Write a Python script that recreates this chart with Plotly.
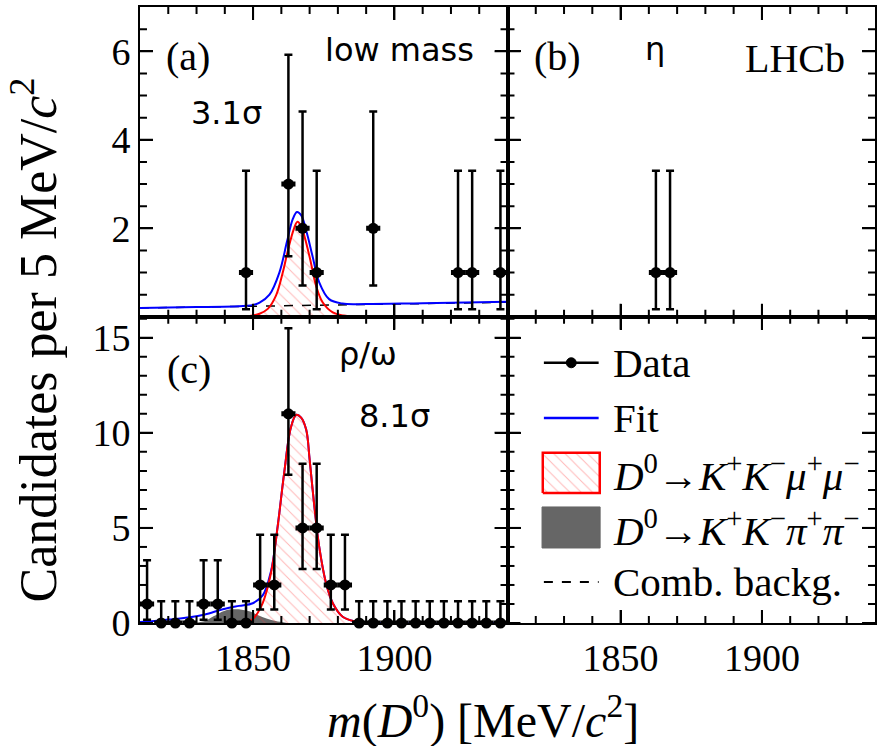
import plotly.graph_objects as go

# ---------------- data ----------------
# panel (a): low mass
x_a = [1847.5, 1862.5, 1867.5, 1872.5, 1892.5, 1922.5, 1927.5, 1937.5]
n_a = [1, 3, 2, 1, 2, 1, 1, 1]
lo_a = [0.17, 1.37, 0.71, 0.17, 0.71, 0.17, 0.17, 0.17]
hi_a = [3.30, 5.92, 4.64, 3.30, 4.64, 3.30, 3.30, 3.30]

# panel (b): eta
x_b = [1862.5, 1867.5]
n_b = [1, 1]
lo_b = [0.17, 0.17]
hi_b = [3.30, 3.30]

# panel (c): rho/omega
x_c = [1812.5, 1817.5, 1822.5, 1827.5, 1832.5, 1837.5, 1842.5, 1847.5, 1852.5,
       1857.5, 1862.5, 1867.5, 1872.5, 1877.5, 1882.5, 1887.5, 1892.5, 1897.5,
       1902.5, 1907.5, 1912.5, 1917.5, 1922.5, 1927.5, 1932.5, 1937.5]
n_c = [1, 0, 0, 0, 1, 1, 0, 0, 2, 2, 11, 5, 5, 2, 2, 0, 0, 0, 0, 0, 0, 0, 0, 0, 0, 0]
lo_c = [0.17, 0, 0, 0, 0.17, 0.17, 0, 0, 0.71, 0.71, 7.79, 2.84, 2.84, 0.71, 0.71,
        0, 0, 0, 0, 0, 0, 0, 0, 0, 0, 0]
hi_c = [3.30, 1.15, 1.15, 1.15, 3.30, 3.30, 1.15, 1.15, 4.64, 4.64, 15.5, 8.38, 8.38,
        4.64, 4.64, 1.15, 1.15, 1.15, 1.15, 1.15, 1.15, 1.15, 1.15, 1.15, 1.15, 1.15]

# fit curves, panel (a)
sig_a_x = [1846, 1850, 1852.3, 1855.2, 1858.1, 1860.5, 1862.5, 1864.5, 1865.7, 1867,
           1869.9, 1872.3, 1874.6, 1878.2, 1882, 1886]
sig_a_y = [0, 0.03, 0.07, 0.18, 0.48, 1.0, 1.55, 2.0, 2.15, 2.05, 1.38, 0.7, 0.33,
           0.1, 0.03, 0]
fit_a_x = [1810, 1830, 1845, 1847.6, 1850, 1852.3, 1855.8, 1859.3, 1862, 1864, 1865.5,
           1867, 1869, 1871, 1873.4, 1876.9, 1881.6, 1890, 1910, 1940]
fit_a_y = [0.2, 0.22, 0.24, 0.25, 0.27, 0.32, 0.5, 1.0, 1.7, 2.2, 2.37, 2.3, 1.9, 1.38,
           0.78, 0.4, 0.3, 0.29, 0.31, 0.34]
comb_a_x = [1810, 1940]
comb_a_y = [0.2, 0.33]

# fit curves, panel (c)
sig_c_x = [1847, 1849.5, 1851.5, 1853.4, 1856.3, 1858.7, 1861.0, 1863.4, 1865.3, 1867,
           1868.8, 1870, 1871.7, 1873.4, 1875.8, 1878.2, 1881.7, 1886.4, 1890]
sig_c_y = [0, 0.15, 0.5, 1.04, 2.6, 5.07, 7.88, 10.3, 10.95, 10.8, 10.16, 8.6, 6.1,
           4.0, 2.1, 1.04, 0.33, 0.07, 0]
fit_c_x = [1810, 1815, 1820, 1827.6, 1833, 1839.3, 1845, 1849.9, 1853.4, 1856.3, 1858.7,
           1861.0, 1863.4, 1865.3, 1867, 1868.8, 1870, 1871.7, 1873.4, 1875.8, 1878.2,
           1881.7, 1886.4, 1890, 1940]
fit_c_y = [0.05, 0.1, 0.18, 0.3, 0.45, 0.72, 0.9, 1.04, 1.45, 2.7, 5.1, 7.9, 10.3,
           10.95, 10.8, 10.16, 8.6, 6.1, 4.0, 2.1, 1.04, 0.33, 0.07, 0.01, 0]
pk_c_x = [1829, 1833, 1836, 1840, 1843, 1846, 1849, 1852, 1855, 1858, 1862]
pk_c_y = [0, 0.1, 0.35, 0.65, 0.72, 0.7, 0.6, 0.4, 0.22, 0.1, 0]

# axis ranges and tick positions
X_RANGE = [1810, 1940]
Y_TOP = [0, 7]
Y_BOT = [0, 16.1]
X_MAJOR = [1850, 1900]
X_MINOR = [1820, 1830, 1840, 1860, 1870, 1880, 1890, 1910, 1920, 1930]
YT_MAJOR = [2, 4, 6]
YT_MINOR = [0.5, 1, 1.5, 2.5, 3, 3.5, 4.5, 5, 5.5, 6.5]
YB_MAJOR = [0, 5, 10, 15]
YB_MINOR = [1, 2, 3, 4, 6, 7, 8, 9, 11, 12, 13, 14, 16]

SERIF = "Liberation Serif"
SANS = "DejaVu Sans"
HATCH = dict(shape="\\", fgcolor="rgba(255,60,60,0.75)", bgcolor="rgba(255,255,255,0)",
             size=8, solidity=0.12)

# layout geometry (pixels)
W, H = 881, 746
ML, MR, MT, MB = 140, 4, 7, 123
SPLIT = 0.497
PW = (W - ML - MR) / 2.0
PH_TOP = (H - MT - MB) * (1 - SPLIT)
PH_BOT = (H - MT - MB) * SPLIT

fig = go.Figure()


def data_trace(x, n, lo, hi, xa, ya):
    return go.Scatter(
        x=x, y=n, xaxis=xa, yaxis=ya, mode="markers", cliponaxis=False,
        marker=dict(color="black", size=11, symbol="circle"),
        error_y=dict(type="data", symmetric=False,
                     array=[h - v for h, v in zip(hi, n)],
                     arrayminus=[v - l for v, l in zip(n, lo)],
                     color="black", thickness=2.5, width=4),
        error_x=dict(type="constant", value=2.5, color="black", thickness=5, width=0),
        showlegend=False, hoverinfo="skip")


def fill_trace(x, y, xa, ya, **kw):
    return go.Scatter(x=x, y=y, xaxis=xa, yaxis=ya, mode="lines", fill="tozeroy",
                      line=dict(color="rgba(0,0,0,0)", width=0, shape="spline"),
                      showlegend=False, hoverinfo="skip", **kw)


def line_trace(x, y, xa, ya, color, dash="solid", width=2):
    return go.Scatter(x=x, y=y, xaxis=xa, yaxis=ya, mode="lines",
                      line=dict(color=color, width=width, dash=dash, shape="spline"),
                      showlegend=False, hoverinfo="skip")


# ---- panel (a)
fig.add_trace(fill_trace(sig_a_x, sig_a_y, "x", "y", fillcolor="rgba(0,0,0,0)",
                         fillpattern=HATCH))
fig.add_trace(line_trace(comb_a_x, comb_a_y, "x", "y", "black", dash="dash", width=1.5))
fig.add_trace(line_trace(fit_a_x, fit_a_y, "x", "y", "#0000ff"))
fig.add_trace(line_trace(sig_a_x, sig_a_y, "x", "y", "#ff0000"))
fig.add_trace(data_trace(x_a, n_a, lo_a, hi_a, "x", "y"))

# ---- panel (b)
fig.add_trace(data_trace(x_b, n_b, lo_b, hi_b, "x2", "y2"))

# ---- panel (c)
fig.add_trace(fill_trace(pk_c_x, pk_c_y, "x3", "y3", fillcolor="#666666"))
fig.add_trace(fill_trace(sig_c_x, sig_c_y, "x3", "y3", fillcolor="rgba(0,0,0,0)",
                         fillpattern=HATCH))
fig.add_trace(line_trace(fit_c_x, fit_c_y, "x3", "y3", "#0000ff"))
fig.add_trace(line_trace(sig_c_x, sig_c_y, "x3", "y3", "#ff0000"))
fig.add_trace(data_trace(x_c, n_c, lo_c, hi_c, "x3", "y3"))


# ---- panel (d): legend drawn by hand
def dx(f):
    return X_RANGE[0] + f * (X_RANGE[1] - X_RANGE[0])


def dy(f):
    return Y_BOT[0] + f * (Y_BOT[1] - Y_BOT[0])


LX0, LX1 = 0.099, 0.248
fig.add_trace(go.Scatter(x=[dx(0.096), dx(0.251), dx(0.251), dx(0.096), dx(0.096)],
                         y=[dy(0.425), dy(0.425), dy(0.556), dy(0.556), dy(0.425)],
                         xaxis="x4", yaxis="y4", mode="lines", fill="toself",
                         fillcolor="rgba(0,0,0,0)", fillpattern=HATCH,
                         line=dict(color="#ff0000", width=2.5), showlegend=False,
                         hoverinfo="skip"))

shapes = []
shapes.append(dict(type="line", xref="x4 domain", yref="y4 domain", x0=LX0, x1=LX1,
                   y0=0.850, y1=0.850, line=dict(color="black", width=2.5)))
shapes.append(dict(type="circle", xref="x4 domain", yref="y4 domain",
                   x0=(LX0 + LX1) / 2 - 0.0135, x1=(LX0 + LX1) / 2 + 0.0135,
                   y0=0.850 - 0.0163, y1=0.850 + 0.0163,
                   fillcolor="black", line=dict(color="black", width=1)))
shapes.append(dict(type="line", xref="x4 domain", yref="y4 domain", x0=LX0, x1=LX1,
                   y0=0.670, y1=0.670, line=dict(color="#0000ff", width=2.5)))
shapes.append(dict(type="rect", xref="x4 domain", yref="y4 domain", x0=0.094, x1=0.252,
                   y0=0.245, y1=0.379, fillcolor="#666666", line=dict(color="#666666", width=1)))
shapes.append(dict(type="line", xref="x4 domain", yref="y4 domain", x0=LX0, x1=LX1,
                   y0=0.134, y1=0.134, line=dict(color="black", width=2, dash="dash")))

# ---- tick marks (inside, on all four sides of every panel), in data units
TICK = dict(color="black", width=2)
MAJ_LEN, MIN_LEN = 13, 7
panels = [("x", "y", Y_TOP, PH_TOP, YT_MAJOR, YT_MINOR),
          ("x2", "y2", Y_TOP, PH_TOP, YT_MAJOR, YT_MINOR),
          ("x3", "y3", Y_BOT, PH_BOT, YB_MAJOR, YB_MINOR),
          ("x4", "y4", Y_BOT, PH_BOT, YB_MAJOR, YB_MINOR)]
x_per_px = (X_RANGE[1] - X_RANGE[0]) / PW
for xa, ya, yr, ph, ymaj, ymin in panels:
    y_per_px = (yr[1] - yr[0]) / ph
    for vals, L in ((X_MAJOR, MAJ_LEN), (X_MINOR, MIN_LEN)):
        for v in vals:
            shapes.append(dict(type="line", xref=xa, yref=ya, x0=v, x1=v,
                               y0=yr[0], y1=yr[0] + L * y_per_px, line=TICK))
            shapes.append(dict(type="line", xref=xa, yref=ya, x0=v, x1=v,
                               y0=yr[1], y1=yr[1] - L * y_per_px, line=TICK))
    for vals, L in ((ymaj, MAJ_LEN), (ymin, MIN_LEN)):
        for v in vals:
            shapes.append(dict(type="line", xref=xa, yref=ya, y0=v, y1=v,
                               x0=X_RANGE[0], x1=X_RANGE[0] + L * x_per_px, line=TICK))
            shapes.append(dict(type="line", xref=xa, yref=ya, y0=v, y1=v,
                               x0=X_RANGE[1], x1=X_RANGE[1] - L * x_per_px, line=TICK))

legend_items = [
    ("Data", 0.850),
    ("Fit", 0.670),
    ("<i>D</i><sup>0</sup>→<i>K</i><sup>+</sup><i>K</i><sup>−</sup><i>μ</i><sup>+</sup><i>μ</i><sup>−</sup>", 0.490),
    ("<i>D</i><sup>0</sup>→<i>K</i><sup>+</sup><i>K</i><sup>−</sup><i>π</i><sup>+</sup><i>π</i><sup>−</sup>", 0.310),
    ("Comb. backg.", 0.134),
]

annotations = []
for txt, yy in legend_items:
    annotations.append(dict(text=txt, xref="x4 domain", yref="y4 domain", x=0.281, y=yy,
                            xanchor="left", yanchor="middle", showarrow=False,
                            font=dict(family=SERIF, size=41, color="black")))


def panel_text(txt, xr, yr, x, y, family, size):
    annotations.append(dict(text=txt, xref=xr, yref=yr, x=x, y=y, xanchor="center",
                            yanchor="middle", showarrow=False,
                            font=dict(family=family, size=size, color="black")))


panel_text("(a)", "x domain", "y domain", 0.130, 0.839, SERIF, 40)
panel_text("low mass", "x domain", "y domain", 0.706, 0.861, SANS, 32)
panel_text("3.1σ", "x domain", "y domain", 0.235, 0.658, SANS, 32)
panel_text("(b)", "x2 domain", "y2 domain", 0.137, 0.839, SERIF, 40)
panel_text("η", "x2 domain", "y2 domain", 0.400, 0.865, SANS, 32)
panel_text("LHCb", "x2 domain", "y2 domain", 0.782, 0.835, SERIF, 40)
panel_text("(c)", "x3 domain", "y3 domain", 0.134, 0.827, SERIF, 40)
panel_text("ρ/ω", "x3 domain", "y3 domain", 0.620, 0.879, SANS, 32)
panel_text("8.1σ", "x3 domain", "y3 domain", 0.693, 0.676, SANS, 32)

# axis titles
annotations.append(dict(text="Candidates per 5 MeV/<i>c</i><sup>2</sup>", xref="paper",
                        yref="paper", x=-0.143, y=0.46, textangle=-90, xanchor="center",
                        yanchor="middle", showarrow=False,
                        font=dict(family=SERIF, size=52, color="black")))
annotations.append(dict(text="<i>m</i>(<i>D</i><sup>0</sup>) [MeV/<i>c</i><sup>2</sup>]",
                        xref="paper", yref="paper", x=0.4668, y=-0.154, xanchor="center",
                        yanchor="middle", showarrow=False,
                        font=dict(family=SERIF, size=48, color="black")))

TICKFONT = dict(family=SERIF, size=38, color="black")
base = dict(showline=True, linecolor="black", linewidth=2, mirror="ticks",
            ticks="inside", ticklen=MAJ_LEN, tickwidth=2, tickcolor="black",
            showgrid=False, zeroline=False, tickfont=TICKFONT)
xax = dict(base, range=X_RANGE, tickmode="array", tickvals=X_MAJOR,
           ticktext=[str(v) for v in X_MAJOR])
ytop = dict(base, range=Y_TOP, tickmode="array", tickvals=YT_MAJOR,
            ticktext=[str(v) for v in YT_MAJOR])
ybot = dict(base, range=Y_BOT, tickmode="array", tickvals=YB_MAJOR,
            ticktext=[str(v) for v in YB_MAJOR])

fig.update_layout(
    width=W, height=H,
    margin=dict(l=ML, r=MR, t=MT, b=MB),
    paper_bgcolor="white", plot_bgcolor="rgba(0,0,0,0)",
    showlegend=False,
    xaxis=dict(xax, domain=[0, 0.5], anchor="y", showticklabels=False),
    xaxis2=dict(xax, domain=[0.5, 1], anchor="y2", showticklabels=False),
    xaxis3=dict(xax, domain=[0, 0.5], anchor="y3", showticklabels=True),
    xaxis4=dict(xax, domain=[0.5, 1], anchor="y4", showticklabels=True),
    yaxis=dict(ytop, domain=[SPLIT, 1], anchor="x", showticklabels=True),
    yaxis2=dict(ytop, domain=[SPLIT, 1], anchor="x2", showticklabels=False),
    yaxis3=dict(ybot, domain=[0, SPLIT], anchor="x3", showticklabels=True),
    yaxis4=dict(ybot, domain=[0, SPLIT], anchor="x4", showticklabels=False),
    shapes=shapes,
    annotations=annotations,
)

fig.write_html("out.html")
